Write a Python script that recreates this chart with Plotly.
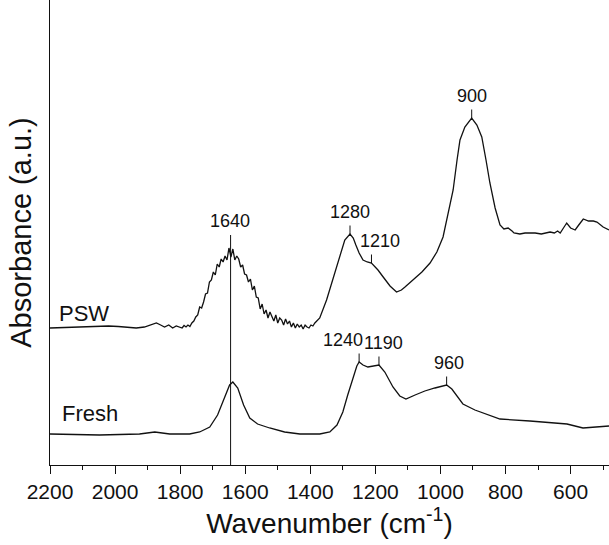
import plotly.graph_objects as go

# ---------------- data ----------------
psw_wn = [2200, 2150, 2100, 2050, 2020, 1990, 1960, 1935, 1910, 1890, 1873, 1860, 1848, 1835, 1823, 1812,
          1800, 1794, 1788, 1782, 1776, 1770, 1764, 1758, 1752, 1746, 1740, 1734, 1728, 1722, 1716, 1710,
          1704, 1698, 1692, 1686, 1680, 1674, 1668, 1662, 1656, 1650, 1644, 1638, 1632, 1626, 1620, 1614,
          1608, 1602, 1596, 1590, 1584, 1578, 1572, 1566, 1560, 1554, 1548, 1542, 1536, 1530, 1524, 1518,
          1512, 1506, 1500, 1494, 1488, 1482, 1476, 1470, 1464, 1458, 1452, 1446, 1440, 1434, 1428, 1422,
          1416, 1410, 1404, 1398, 1392, 1386,
          1371, 1350, 1331, 1309, 1294, 1278, 1268, 1260, 1250, 1238, 1225, 1212, 1200, 1192, 1176, 1155,
          1135, 1120, 1109, 1084, 1057, 1032, 1011, 992, 977, 961, 949, 940, 925, 904, 888, 873, 860, 848,
          832, 817, 805, 792, 780, 774, 756, 740, 709, 690, 663, 650, 640, 632, 620, 612, 600, 586, 575,
          561, 545, 530, 519, 500, 482]
psw_abs = [1.37, 1.375, 1.38, 1.39, 1.39, 1.385, 1.375, 1.37, 1.38, 1.40, 1.42, 1.40, 1.38, 1.40, 1.37, 1.39,
           1.38, 1.37, 1.395, 1.38, 1.40, 1.385, 1.42, 1.44, 1.48, 1.50, 1.58, 1.57, 1.63, 1.71, 1.72, 1.83,
           1.85, 1.93, 1.90, 2.01, 1.98, 2.06, 2.03, 2.09, 2.05, 2.17, 2.08, 2.16, 2.05, 2.09, 2.06, 1.98,
           2.00, 1.91, 1.90, 1.83, 1.86, 1.75, 1.79, 1.68, 1.67, 1.56, 1.61, 1.51, 1.55, 1.47, 1.53, 1.49,
           1.44, 1.50, 1.42, 1.47, 1.45, 1.40, 1.46, 1.41, 1.44, 1.38, 1.42, 1.37, 1.41, 1.38, 1.40, 1.36,
           1.40, 1.38, 1.37, 1.40, 1.39, 1.42,
           1.47, 1.65, 1.85, 2.10, 2.25, 2.31, 2.27, 2.20, 2.12, 2.05, 2.03, 2.02, 1.98, 1.95, 1.88, 1.79,
           1.73, 1.75, 1.78, 1.85, 1.93, 2.02, 2.13, 2.28, 2.50, 2.75, 3.05, 3.25, 3.38, 3.47, 3.40, 3.28, 3.05, 2.82,
           2.57, 2.40, 2.36, 2.37, 2.34, 2.32, 2.31, 2.32, 2.32, 2.31, 2.33, 2.32, 2.34, 2.32, 2.38, 2.42, 2.37, 2.35, 2.40,
           2.46, 2.44, 2.44, 2.43, 2.38, 2.35]

fresh_wn = [2200, 2048, 1925, 1878, 1832, 1771, 1740, 1709, 1685, 1663, 1648, 1638, 1623, 1605, 1586, 1562,
            1525, 1479, 1432, 1371, 1340, 1318, 1300, 1285, 1269, 1257, 1250, 1238, 1223, 1205, 1189, 1171,
            1146, 1125, 1106, 1078, 1048, 1017, 981, 965, 946, 931, 894, 848, 817, 725, 611, 562, 509, 482]
fresh_abs = [0.31, 0.30, 0.31, 0.33, 0.31, 0.31, 0.33, 0.38, 0.50, 0.68, 0.80, 0.83, 0.77, 0.60, 0.47, 0.41,
             0.37, 0.33, 0.31, 0.31, 0.33, 0.40, 0.53, 0.70, 0.87, 0.99, 1.03, 1.00, 0.98, 0.99, 1.00, 0.93,
             0.78, 0.69, 0.66, 0.70, 0.74, 0.77, 0.80, 0.76, 0.68, 0.61, 0.55, 0.50, 0.46, 0.44, 0.41, 0.37, 0.38, 0.39]

# peak labels: text, wavenumber of peak mark, series
peak_text = ["900", "1280", "1210", "1240", "1190", "960"]
peak_wn = [904, 1278, 1212, 1250, 1189, 981]
peak_series = ["PSW", "PSW", "PSW", "Fresh", "Fresh", "Fresh"]
label_wn = [904, 1278, 1187, 1301, 1175, 974]

ref_line_text = "1640"
ref_line_wn = 1645

x_ticks = [2200, 2000, 1800, 1600, 1400, 1200, 1000, 800, 600]

# ---------------- figure ----------------
FONT = "Liberation Sans, Arial, sans-serif"
fig = go.Figure()
fig.add_trace(go.Scatter(x=psw_wn, y=psw_abs, mode="lines",
                         line=dict(color="#111111", width=1.3), name="PSW", showlegend=False))
fig.add_trace(go.Scatter(x=fresh_wn, y=fresh_abs, mode="lines",
                         line=dict(color="#111111", width=1.3), name="Fresh", showlegend=False))

series = {"PSW": (psw_wn, psw_abs), "Fresh": (fresh_wn, fresh_abs)}


def value_at(wn_list, ab_list, w):
    best = min(range(len(wn_list)), key=lambda i: abs(wn_list[i] - w))
    return ab_list[best]


for t, pw, s, lw in zip(peak_text, peak_wn, peak_series, label_wn):
    wl, al = series[s]
    yv = value_at(wl, al, pw)
    fig.add_shape(type="line", x0=pw, x1=pw, y0=yv, y1=yv + 0.085,
                  line=dict(color="#111111", width=1))
    fig.add_annotation(x=lw, y=yv + 0.10, text=t, showarrow=False, yanchor="bottom",
                       font=dict(family=FONT, size=18, color="#111111"))

# reference vertical line through 1640 peaks
top_ref = value_at(psw_wn, psw_abs, 1650) + 0.13
fig.add_shape(type="line", x0=ref_line_wn, x1=ref_line_wn, y0=0, y1=top_ref,
              line=dict(color="#111111", width=1))
fig.add_annotation(x=ref_line_wn + 3, y=top_ref + 0.02, text=ref_line_text, showarrow=False,
                   yanchor="bottom", font=dict(family=FONT, size=18, color="#111111"))

# series labels
fig.add_annotation(x=2177, y=1.52, text="PSW", showarrow=False, xanchor="left",
                   font=dict(family=FONT, size=22, color="#111111"))
fig.add_annotation(x=2168, y=0.52, text="Fresh", showarrow=False, xanchor="left",
                   font=dict(family=FONT, size=22, color="#111111"))

fig.update_layout(
    width=609, height=545,
    margin=dict(l=50, r=0, t=0, b=80),
    paper_bgcolor="white", plot_bgcolor="white",
    font=dict(family=FONT, color="#111111"),
)
fig.update_xaxes(
    range=[2200, 482], tickvals=x_ticks, ticks="outside", ticklen=8, tickwidth=1.3,
    tickcolor="#111111", showline=True, linecolor="#111111", linewidth=1.3,
    showgrid=False, zeroline=False, tickfont=dict(family=FONT, size=21, color="#111111"),
    minor=dict(dtick=100, ticks="outside", ticklen=4, tickwidth=1.3, tickcolor="#111111", showgrid=False),
    title=dict(text="Wavenumber (cm<sup>-1</sup>)", font=dict(family=FONT, size=28, color="#111111"), standoff=6),
    automargin=False,
)
fig.update_yaxes(
    range=[0, 4.65], showticklabels=False, ticks="", showline=True, linecolor="#111111",
    linewidth=1.3, showgrid=False, zeroline=False,
    title=dict(text="Absorbance (a.u.)", font=dict(family=FONT, size=29, color="#111111"), standoff=8),
    automargin=False,
)

fig.write_html("out.html")
